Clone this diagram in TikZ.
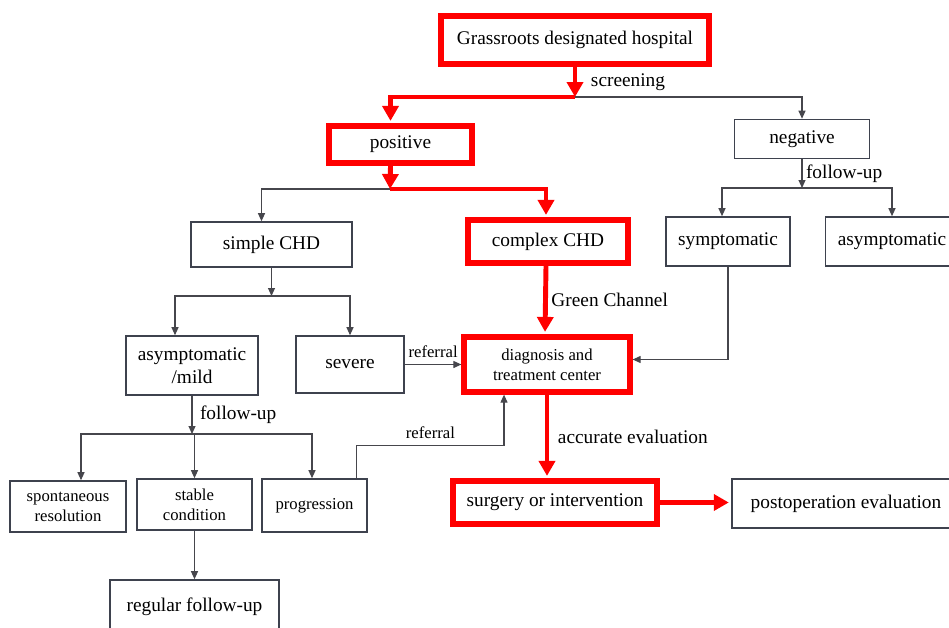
\documentclass[tikz,border=0pt]{standalone}
\usepackage{fontspec}
\setmainfont{Liberation Serif}
\newfontfamily\timesish{Liberation Serif}
\usetikzlibrary{arrows.meta,positioning,calc}
\definecolor{alarm}{RGB}{255,0,0}
\definecolor{slate}{RGB}{62,66,78}
\definecolor{wire}{RGB}{70,70,76}
\tikzset{
  >={Triangle[length=1.6mm,width=1.4mm]},
  box/.style={draw=#1,line width=0.9pt,fill=white,align=center,inner sep=1pt,
    font=\timesish\fontsize{11}{13}\selectfont},
  box/.default=slate,
  hot/.style={box=alarm,line width=3pt},
  note/.style={font=\timesish\fontsize{9.5}{11.3}\selectfont},
  link/.style={->,draw=wire,line width=0.6pt},
  hot link/.style={-{Triangle[length=3mm,width=3.2mm]},draw=alarm,line width=2.8pt,
    shorten >=1.4pt},
  tag/.style={font=\timesish\fontsize{11}{13}\selectfont,inner sep=2pt},
}

\begin{document}
\begin{tikzpicture}[x=0.02cm,y=-0.02cm]
  \useasboundingbox (0,0) rectangle (949,628);
  % boxes
  \node[hot,minimum width=5.36cm,minimum height=0.96cm] (grass) at (575,40) {Grassroots designated hospital};
  \node[hot,minimum width=2.86cm,minimum height=0.74cm] (pos) at (400.5,144.5) {positive};
  \node[box,minimum width=2.7cm,minimum height=0.78cm] (neg) at (802,139) {negative};
  \node[box,minimum width=3.22cm,minimum height=0.9cm] (simple) at (271.5,244.5) {simple CHD};
  \node[hot,minimum width=3.2cm,minimum height=0.86cm] (cplx) at (548,241.5) {complex CHD};
  \node[box,minimum width=2.48cm,minimum height=0.98cm] (sym) at (728,241.5) {symptomatic};
  \node[box,minimum width=2.66cm,minimum height=0.98cm] (asym) at (892,241.5) {asymptomatic};
  \node[box,minimum width=2.64cm,minimum height=1.18cm] (mild) at (192,365.5) {asymptomatic\\/mild};
  \node[box,minimum width=2.16cm,minimum height=1.14cm] (severe) at (350,364.5) {severe};
  \node[hot,note,minimum width=3.32cm,minimum height=1.1cm] (diag) at (547,364.5) {diagnosis and\\treatment center};
  \node[box,note,minimum width=2.32cm,minimum height=1.02cm] (spont) at (68,506.5) {spontaneous\\resolution};
  \node[box,note,minimum width=2.3cm,minimum height=1.02cm] (stable) at (194.5,504.5) {stable\\condition};
  \node[box,note,minimum width=2.1cm,minimum height=1.06cm] (prog) at (314.5,505.5) {progression};
  \node[hot,minimum width=4.08cm,minimum height=0.86cm] (surg) at (555,502.5) {surgery or intervention};
  \node[box,minimum width=4.56cm,minimum height=0.98cm] (post) at (846,503.5) {postoperation evaluation};
  \node[box,minimum width=3.38cm,minimum height=1.08cm] (regular) at (194.5,607) {regular follow-up};
  % branch points
  \coordinate (scr) at (575,97);
  \coordinate (pj) at (390,189);
  \coordinate (nj) at (802,188);
  \coordinate (sj) at (271.5,296);
  \coordinate (mj) at (192,434);
  % red route
  \draw[hot link,shorten >=0pt] (grass.south) -- node[tag,right=0.2cm,midway]{screening} (scr);
  \draw[link] (scr) -| (neg.north);
  \draw[hot link] (scr) -| ([xshift=-0.2cm]pos.north);
  \draw[link] (pj) -| ([xshift=-0.2cm]simple.north);
  \draw[hot link,shorten >=0pt] ([xshift=-0.2cm]pos.south) -- (pj);
  \draw[hot link] (pj) -| ([xshift=-0.04cm]cplx.north);
  \draw[hot link] ([xshift=-0.04cm]cplx.south) -- node[tag,right,midway]{Green Channel} ([xshift=-0.04cm]diag.north);
  \draw[hot link] (diag.south) -- node[tag,right=0.1cm,midway]{accurate evaluation} (diag.south |- surg.north);
  \draw[hot link] (surg.east) -- (surg.east -| post.west);
  % negative side
  \draw[link] (neg.south) -- node[tag,right,midway]{follow-up} (nj);
  \draw[link] (nj) -| ([xshift=-0.12cm]sym.north);
  \draw[link] (nj) -| (asym.north);
  \draw[link] (sym.south) |- ([yshift=0.1cm]diag.east);
  % simple CHD side
  \draw[link] (simple.south) -- (sj);
  \draw[link] (sj) -| ([xshift=-0.34cm]mild.north);
  \draw[link] (sj) -| (severe.north);
  \draw[link] (severe.east) -- node[note,above,midway]{referral} (diag.west);
  \draw[link] (mild.south) -- node[tag,right=0.08cm,midway]{follow-up} (mj);
  \draw[link] (mj) -| ([xshift=0.26cm]spont.north);
  \draw[link] (mj) -| (stable.north);
  \draw[link] (mj) -| ([xshift=-0.05cm]prog.north);
  \draw[link] (stable.south) -- (regular.north);
  \draw[link] ([xshift=-0.22cm]prog.north east) -- ++(0,-33) -| node[note,above,pos=0.25]{referral} ([xshift=-0.86cm]diag.south);
\end{tikzpicture}
\end{document}
